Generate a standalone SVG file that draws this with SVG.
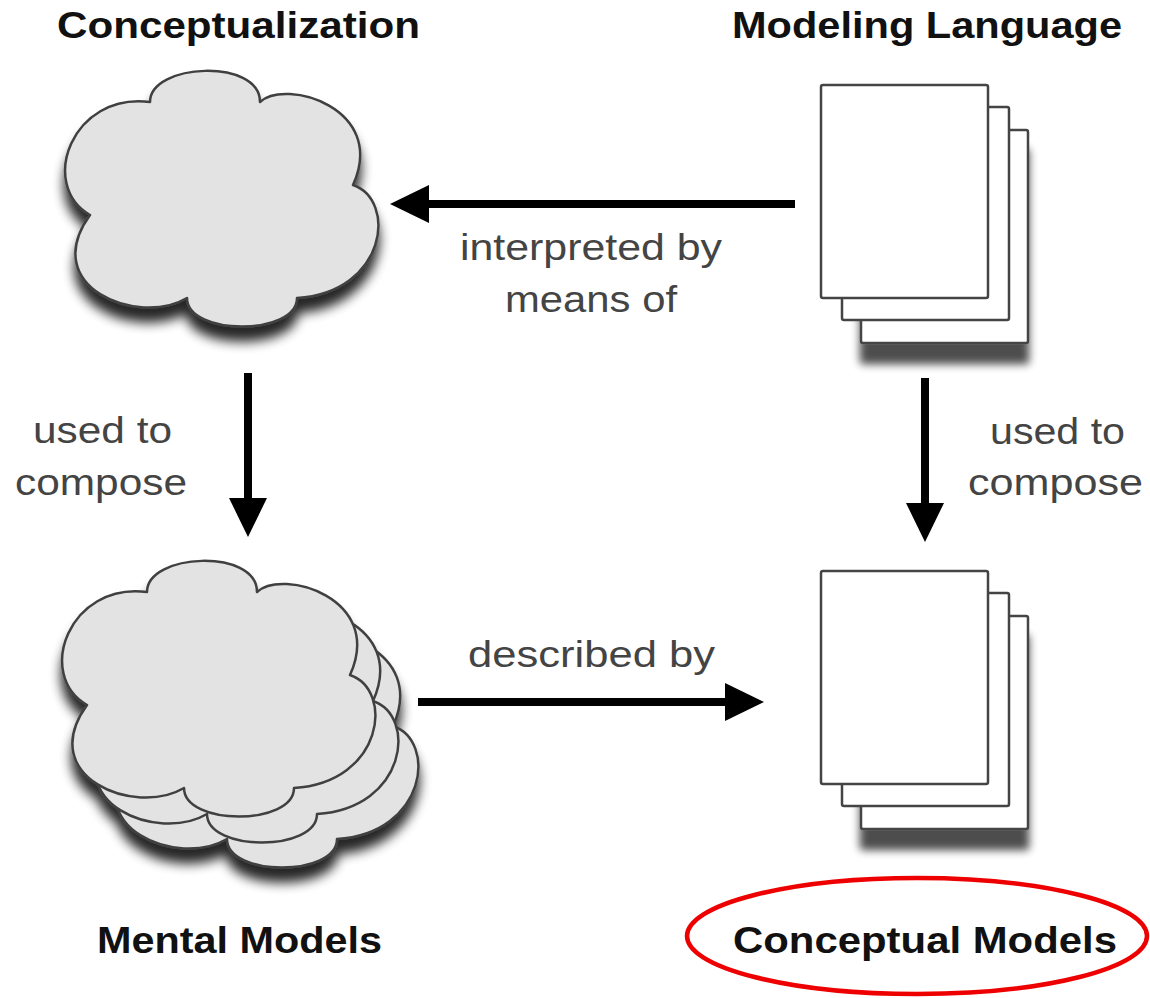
<svg xmlns="http://www.w3.org/2000/svg" xmlns:xlink="http://www.w3.org/1999/xlink" width="1150" height="998" viewBox="0 0 1150 998">
  <style>
    .title { font-family: "Liberation Sans", Arial, sans-serif; font-weight: bold; font-size: 37px; fill: #111; }
    .label { font-family: "Liberation Sans", Arial, sans-serif; font-size: 36px; fill: #444; }
    .cloud { fill: #e3e3e3; stroke: #404040; stroke-width: 2.5; stroke-linejoin: round; }
    .page { fill: #ffffff; stroke: #444; stroke-width: 2.5; }
    .conn { stroke: #000; stroke-width: 8; fill: none; marker-end: url(#head); }
    .mark { fill: none; stroke: #ee0000; stroke-width: 4.5; }
  </style>
  <defs>
    <filter id="cloudShadow" x="-20%" y="-20%" width="150%" height="160%">
      <feGaussianBlur in="SourceAlpha" stdDeviation="6"/>
      <feOffset dx="0" dy="14" result="blur"/>
      <feComponentTransfer><feFuncA type="linear" slope="0.85"/></feComponentTransfer>
      <feMerge><feMergeNode/><feMergeNode in="SourceGraphic"/></feMerge>
    </filter>
    <filter id="pageShadow" x="-20%" y="-20%" width="150%" height="160%">
      <feGaussianBlur in="SourceAlpha" stdDeviation="4"/>
      <feOffset dx="0" dy="20" result="blur"/>
      <feComponentTransfer><feFuncA type="linear" slope="0.7"/></feComponentTransfer>
      <feMerge><feMergeNode/><feMergeNode in="SourceGraphic"/></feMerge>
    </filter>
    <marker id="head" viewBox="0 0 39 38" refX="0" refY="19" markerWidth="39" markerHeight="38" markerUnits="userSpaceOnUse" orient="auto">
      <path d="M0,0 L39,19 L0,38 Z" fill="#000"/>
    </marker>
    <path id="cloudShape" d="M150,102 C150,63 260,58 260,102 C285,78 388,108 353,185 C397,200 387,292 297,298 C297,336 187,336 187,298 C138,327 38,287 90,215 C38,185 72,92 150,102 Z"/>
    <!-- three stacked sheets; only the back sheet casts the shadow -->
    <g id="pages">
      <rect x="40" y="45" width="167" height="213" rx="2" filter="url(#pageShadow)"/>
      <rect x="21" y="22" width="167" height="213" rx="2"/>
      <rect x="0" y="0" width="167" height="213" rx="2"/>
    </g>
  </defs>

  <rect width="1150" height="998" fill="#ffffff"/>

  <!-- Conceptualization: single cloud -->
  <g id="conceptualization">
    <use xlink:href="#cloudShape" class="cloud" filter="url(#cloudShadow)"/>
    <text class="title" x="57" y="38" textLength="363" lengthAdjust="spacingAndGlyphs">Conceptualization</text>
  </g>

  <!-- Modeling Language: stack of pages -->
  <g id="modeling-language">
    <g class="page" transform="translate(821,85)">
      <use xlink:href="#pages"/>
    </g>
    <text class="title" x="732" y="38" textLength="390" lengthAdjust="spacingAndGlyphs">Modeling Language</text>
  </g>

  <!-- Mental Models: stacked clouds -->
  <g id="mental-models">
    <g filter="url(#cloudShadow)">
      <use xlink:href="#cloudShape" class="cloud" transform="translate(40,541)"/>
      <use xlink:href="#cloudShape" class="cloud" transform="translate(20,516)"/>
      <use xlink:href="#cloudShape" class="cloud" transform="translate(-3,490)"/>
    </g>
    <text class="title" x="97" y="953" textLength="285" lengthAdjust="spacingAndGlyphs">Mental Models</text>
  </g>

  <!-- Conceptual Models: stack of pages, circled -->
  <g id="conceptual-models">
    <g class="page" transform="translate(821,571)">
      <use xlink:href="#pages"/>
    </g>
    <text class="title" x="733" y="953" textLength="384" lengthAdjust="spacingAndGlyphs">Conceptual Models</text>
    <ellipse class="mark" cx="917" cy="936" rx="230" ry="58"/>
  </g>

  <!-- Connectors -->
  <g id="connectors">
    <path class="conn" d="M795,204 L429,204"/>
    <text class="label" x="460" y="260" textLength="262" lengthAdjust="spacingAndGlyphs">interpreted by</text>
    <text class="label" x="505" y="312" textLength="172" lengthAdjust="spacingAndGlyphs">means of</text>

    <path class="conn" d="M248,373 L248,498"/>
    <text class="label" x="33" y="443" textLength="139" lengthAdjust="spacingAndGlyphs">used to</text>
    <text class="label" x="15" y="495" textLength="172" lengthAdjust="spacingAndGlyphs">compose</text>

    <path class="conn" d="M925,378 L925,503"/>
    <text class="label" x="990" y="444" textLength="135" lengthAdjust="spacingAndGlyphs">used to</text>
    <text class="label" x="968" y="495" textLength="175" lengthAdjust="spacingAndGlyphs">compose</text>

    <path class="conn" d="M418,702 L725,702"/>
    <text class="label" x="468" y="667" textLength="247" lengthAdjust="spacingAndGlyphs">described by</text>
  </g>
</svg>
